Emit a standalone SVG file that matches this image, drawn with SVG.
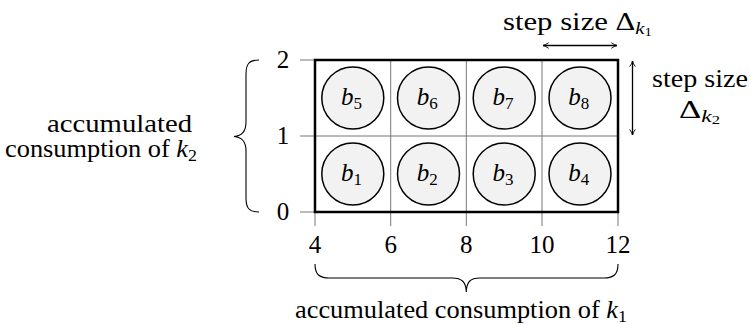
<svg xmlns="http://www.w3.org/2000/svg" width="751" height="325" viewBox="0 0 751 325">
<defs>
<marker id="ah" viewBox="0 0 10 10" refX="9" refY="5" markerWidth="7" markerHeight="7" orient="auto-start-reverse" markerUnits="userSpaceOnUse">
<path d="M1,1 Q5,4 9,5 Q5,6 1,9" fill="none" stroke="#000" stroke-width="1.3"/>
</marker>
</defs>
<g id="axes">
<path stroke="#777" stroke-width="1" fill="none" d="M300,60H315M300,136H315M300,212H315M315,212V226M390.7,212V226M466.3,212V226M542,212V226M618,212V226"/>
<path stroke="#777" stroke-width="1" fill="none" d="M390.7,60V212M466.3,60V212M542,60V212M315,136H618"/>
<rect stroke="#000" stroke-width="2.5" fill="none" x="315" y="60" width="303" height="152"/>
<text font-family="'Liberation Serif', 'Times New Roman', serif" font-size="25" text-anchor="middle" x="283" y="68">2</text>
<text font-family="'Liberation Serif', 'Times New Roman', serif" font-size="25" text-anchor="middle" x="283" y="144">1</text>
<text font-family="'Liberation Serif', 'Times New Roman', serif" font-size="25" text-anchor="middle" x="283" y="220">0</text>
<text font-family="'Liberation Serif', 'Times New Roman', serif" font-size="25" text-anchor="middle" x="315" y="253">4</text>
<text font-family="'Liberation Serif', 'Times New Roman', serif" font-size="25" text-anchor="middle" x="390.7" y="253">6</text>
<text font-family="'Liberation Serif', 'Times New Roman', serif" font-size="25" text-anchor="middle" x="466.3" y="253">8</text>
<text font-family="'Liberation Serif', 'Times New Roman', serif" font-size="25" text-anchor="middle" x="542" y="253">10</text>
<text font-family="'Liberation Serif', 'Times New Roman', serif" font-size="25" text-anchor="middle" x="618" y="253">12</text>
</g>
<g id="b5"><circle fill="#f2f2f2" stroke="#000" stroke-width="1.5" cx="352.8" cy="98" r="31"/><text font-family="'Liberation Serif', 'Times New Roman', serif" font-size="25" font-style="italic" x="341" y="105">b<tspan font-style="normal" font-size="17" dy="4">5</tspan></text></g>
<g id="b6"><circle fill="#f2f2f2" stroke="#000" stroke-width="1.5" cx="428.5" cy="98" r="31"/><text font-family="'Liberation Serif', 'Times New Roman', serif" font-size="25" font-style="italic" x="416.7" y="105">b<tspan font-style="normal" font-size="17" dy="4">6</tspan></text></g>
<g id="b7"><circle fill="#f2f2f2" stroke="#000" stroke-width="1.5" cx="504.2" cy="98" r="31"/><text font-family="'Liberation Serif', 'Times New Roman', serif" font-size="25" font-style="italic" x="492.4" y="105">b<tspan font-style="normal" font-size="17" dy="4">7</tspan></text></g>
<g id="b8"><circle fill="#f2f2f2" stroke="#000" stroke-width="1.5" cx="580" cy="98" r="31"/><text font-family="'Liberation Serif', 'Times New Roman', serif" font-size="25" font-style="italic" x="568.2" y="105">b<tspan font-style="normal" font-size="17" dy="4">8</tspan></text></g>
<g id="b1"><circle fill="#f2f2f2" stroke="#000" stroke-width="1.5" cx="352.8" cy="174" r="31"/><text font-family="'Liberation Serif', 'Times New Roman', serif" font-size="25" font-style="italic" x="341" y="181">b<tspan font-style="normal" font-size="17" dy="4">1</tspan></text></g>
<g id="b2"><circle fill="#f2f2f2" stroke="#000" stroke-width="1.5" cx="428.5" cy="174" r="31"/><text font-family="'Liberation Serif', 'Times New Roman', serif" font-size="25" font-style="italic" x="416.7" y="181">b<tspan font-style="normal" font-size="17" dy="4">2</tspan></text></g>
<g id="b3"><circle fill="#f2f2f2" stroke="#000" stroke-width="1.5" cx="504.2" cy="174" r="31"/><text font-family="'Liberation Serif', 'Times New Roman', serif" font-size="25" font-style="italic" x="492.4" y="181">b<tspan font-style="normal" font-size="17" dy="4">3</tspan></text></g>
<g id="b4"><circle fill="#f2f2f2" stroke="#000" stroke-width="1.5" cx="580" cy="174" r="31"/><text font-family="'Liberation Serif', 'Times New Roman', serif" font-size="25" font-style="italic" x="568.2" y="181">b<tspan font-style="normal" font-size="17" dy="4">4</tspan></text></g>
<g id="connectors" fill="none" stroke="#000">
<line stroke-width="1.3" x1="543" y1="45.5" x2="617" y2="45.5" marker-start="url(#ah)" marker-end="url(#ah)"/>
<line stroke-width="1.3" x1="632.5" y1="61" x2="632.5" y2="135" marker-start="url(#ah)" marker-end="url(#ah)"/>
<path stroke-width="1.1" d="M259,60 C249,60 246,64 246,74 L246,122 C246,132 242,136 234,136.5 C242,137 246,141 246,151 L246,198 C246,208 249,212 259,212"/>
<path stroke-width="1.1" d="M315,264 C315,274 319,278 329,278 L452,278 C462,278 466,282 466.3,292 C466.6,282 470,278 480,278 L604,278 C614,278 618,274 618,264"/>
</g>
<g id="labels">
<text font-family="'Liberation Serif', 'Times New Roman', serif" font-size="25" x="503" y="30" textLength="149" lengthAdjust="spacingAndGlyphs">step size Δ<tspan font-style="italic" font-size="17" dy="4">k</tspan><tspan font-size="12" dy="2">1</tspan></text>
<text font-family="'Liberation Serif', 'Times New Roman', serif" font-size="25" x="652" y="87" textLength="96" lengthAdjust="spacingAndGlyphs">step size</text>
<text font-family="'Liberation Serif', 'Times New Roman', serif" font-size="25" x="679" y="118" textLength="41" lengthAdjust="spacingAndGlyphs">Δ<tspan font-style="italic" font-size="17" dy="4">k</tspan><tspan font-size="12" dy="2">2</tspan></text>
<text font-family="'Liberation Serif', 'Times New Roman', serif" font-size="25" x="47" y="132" textLength="145" lengthAdjust="spacingAndGlyphs">accumulated</text>
<text font-family="'Liberation Serif', 'Times New Roman', serif" font-size="25" x="5" y="157" textLength="192" lengthAdjust="spacingAndGlyphs">consumption of <tspan font-style="italic">k</tspan><tspan font-size="17" dy="4">2</tspan></text>
<text font-family="'Liberation Serif', 'Times New Roman', serif" font-size="25" x="295" y="318" textLength="332" lengthAdjust="spacingAndGlyphs">accumulated consumption of <tspan font-style="italic">k</tspan><tspan font-size="17" dy="4">1</tspan></text>
</g>
</svg>
